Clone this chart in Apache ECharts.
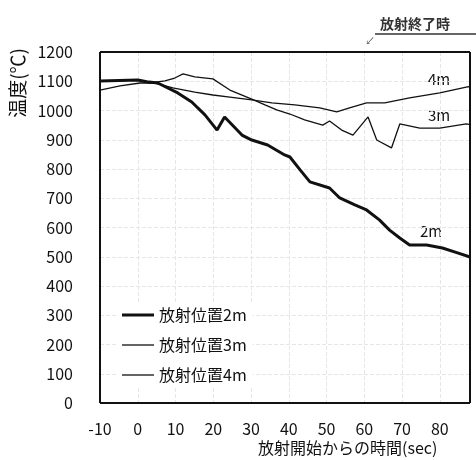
<!DOCTYPE html>
<html>
<head>
<meta charset="utf-8">
<script src="https://cdn.jsdelivr.net/npm/echarts@6/dist/echarts.min.js"></script>
<style>
  html, body { margin: 0; padding: 0; background: #fff; }
  #chart { width: 476px; height: 460px; }
</style>
</head>
<body>
<div id="chart"></div>
<script>
// time since spraying started (sec) and temperature (C)
const pos2mTime = [-10, 0, 2.4, 5.3, 10.6, 14.3, 17.8, 21, 23, 27.6, 30.2, 34.4, 38.9, 40.3, 43, 45.6, 50.8, 53.5, 57.5, 60.6, 64, 66.7, 69.4, 72, 76.5, 80.7, 84.7, 88];
const pos2mTemp = [1101, 1104, 1098, 1094, 1060, 1029, 985, 933, 978, 916, 899, 882, 848, 841, 797, 756, 735, 701, 677, 660, 626, 591, 564, 540, 540, 530, 513, 499];

const pos3mTime = [-10, 0, 3.2, 7.2, 9.8, 12, 15.1, 19.9, 24.4, 30.2, 33.7, 36.8, 40.3, 44.2, 49, 50.8, 54, 57, 61, 63.3, 67.2, 69.4, 74.7, 80, 87, 88];
const pos3mTemp = [1100, 1104, 1094, 1101, 1111, 1125, 1115, 1108, 1070, 1039, 1019, 1002, 988, 968, 950, 964, 933, 916, 978, 899, 872, 954, 940, 940, 954, 952];

const pos4mTime = [-10, -4.7, 0.6, 4.5, 9.3, 15.1, 19.9, 24.4, 30.2, 35.5, 41.6, 48.2, 52.7, 56.1, 60.6, 65.4, 72, 80, 87, 88];
const pos4mTemp = [1070, 1084, 1094, 1094, 1077, 1063, 1053, 1046, 1036, 1026, 1019, 1009, 995, 1009, 1026, 1026, 1043, 1060, 1080, 1082];

const seriesNames = ['放射位置2m', '放射位置3m', '放射位置4m'];
const lineLabels = ['2m', '3m', '4m'];

const FONT = '"Liberation Sans Narrow", "Noto Sans CJK JP", sans-serif';
const INK = '#111';

const zip = (xs, ys) => xs.map((x, i) => [x, ys[i]]);

const chart = echarts.init(document.getElementById('chart'));

chart.setOption({
    backgroundColor: '#fff',
    animation: false,
    textStyle: { fontFamily: FONT, color: INK },
    grid: {
        left: 100,
        right: 6,
        top: 52,
        bottom: 57,
    },
    legend: {
        orient: 'vertical',
        left: 118,
        top: 303,
        itemWidth: 32,
        itemHeight: 12,
        itemGap: 14,
        padding: [4, 6, 4, 4],
        backgroundColor: '#fff',
        textStyle: { fontFamily: FONT, fontSize: 16, color: INK },
        data: [
            { name: seriesNames[0], icon: 'path://M0,0H32V3H0Z' },
            { name: seriesNames[1], icon: 'path://M0,0H32V1.3H0Z' },
            { name: seriesNames[2], icon: 'path://M0,0H32V1.3H0Z' },
        ],
    },
    xAxis: {
        type: 'value',
        min: -10,
        max: 88,
        interval: 10,
        axisLine: { show: false },
        axisTick: { show: false },
        splitLine: { show: true, lineStyle: { color: '#e6e6e6', type: 'dashed' } },
        axisLabel: {
            showMaxLabel: false,
            margin: 18,
            fontSize: 16,
            color: INK,
            fontFamily: FONT,
        },
    },
    yAxis: {
        type: 'value',
        min: 0,
        max: 1200,
        interval: 100,
        axisLine: { show: false },
        axisTick: { show: false },
        splitLine: { show: true, lineStyle: { color: '#e6e6e6', type: 'dashed' } },
        axisLabel: {
            margin: 27,
            fontSize: 16,
            color: INK,
            fontFamily: FONT,
            formatter: v => String(v),
        },
    },
    series: [
        {
            name: seriesNames[0],
            type: 'line',
            data: zip(pos2mTime, pos2mTemp),
            symbol: 'none',
            lineStyle: { width: 3, color: INK },
            itemStyle: { color: INK },
        },
        {
            name: seriesNames[1],
            type: 'line',
            data: zip(pos3mTime, pos3mTemp),
            symbol: 'none',
            lineStyle: { width: 1.3, color: INK },
            itemStyle: { color: INK },
        },
        {
            name: seriesNames[2],
            type: 'line',
            data: zip(pos4mTime, pos4mTemp),
            symbol: 'none',
            lineStyle: { width: 1.3, color: INK },
            itemStyle: { color: INK },
        },
    ],
    graphic: [
        // plot frame, drawn as four strokes
        { type: 'line', z: 50, shape: { x1: 100, y1: 52, x2: 470, y2: 52 }, style: { stroke: INK, lineWidth: 2 } },
        { type: 'line', z: 50, shape: { x1: 100, y1: 403, x2: 470, y2: 403 }, style: { stroke: INK, lineWidth: 2 } },
        { type: 'line', z: 50, shape: { x1: 100, y1: 52, x2: 100, y2: 403 }, style: { stroke: INK, lineWidth: 2 } },
        { type: 'line', z: 50, shape: { x1: 470, y1: 52, x2: 470, y2: 403 }, style: { stroke: INK, lineWidth: 2 } },
        {
            type: 'text', left: 8, top: 48, rotation: Math.PI / 2,
            style: { text: '温度(℃)', fontSize: 19, fontFamily: FONT, fill: INK },
        },
        {
            type: 'text', left: 258, top: 440,
            style: { text: '放射開始からの時間(sec)', fontSize: 16, fontFamily: FONT, fill: INK },
        },
        {
            type: 'text', left: 380, top: 17,
            style: { text: '放射終了時', fontSize: 14, fontWeight: 'bold', fontFamily: FONT, fill: '#333' },
        },
        {
            type: 'line', shape: { x1: 375, y1: 34, x2: 476, y2: 34 },
            style: { stroke: '#333', lineWidth: 1.5 },
        },
        {
            type: 'text', left: 365, top: 36,
            style: { text: '↙', fontSize: 10, fontFamily: FONT, fill: '#666' },
        },
        {
            type: 'text', left: 428, top: 72,
            style: { text: lineLabels[2], fontSize: 15, fontFamily: FONT, fill: INK },
        },
        {
            type: 'text', left: 428, top: 108,
            style: { text: lineLabels[1], fontSize: 15, fontFamily: FONT, fill: INK },
        },
        {
            type: 'text', left: 420, top: 224,
            style: { text: lineLabels[0], fontSize: 15, fontFamily: FONT, fill: INK, backgroundColor: '#fff' },
        },
    ],
});

window.addEventListener('resize', () => chart.resize());
</script>
</body>
</html>
